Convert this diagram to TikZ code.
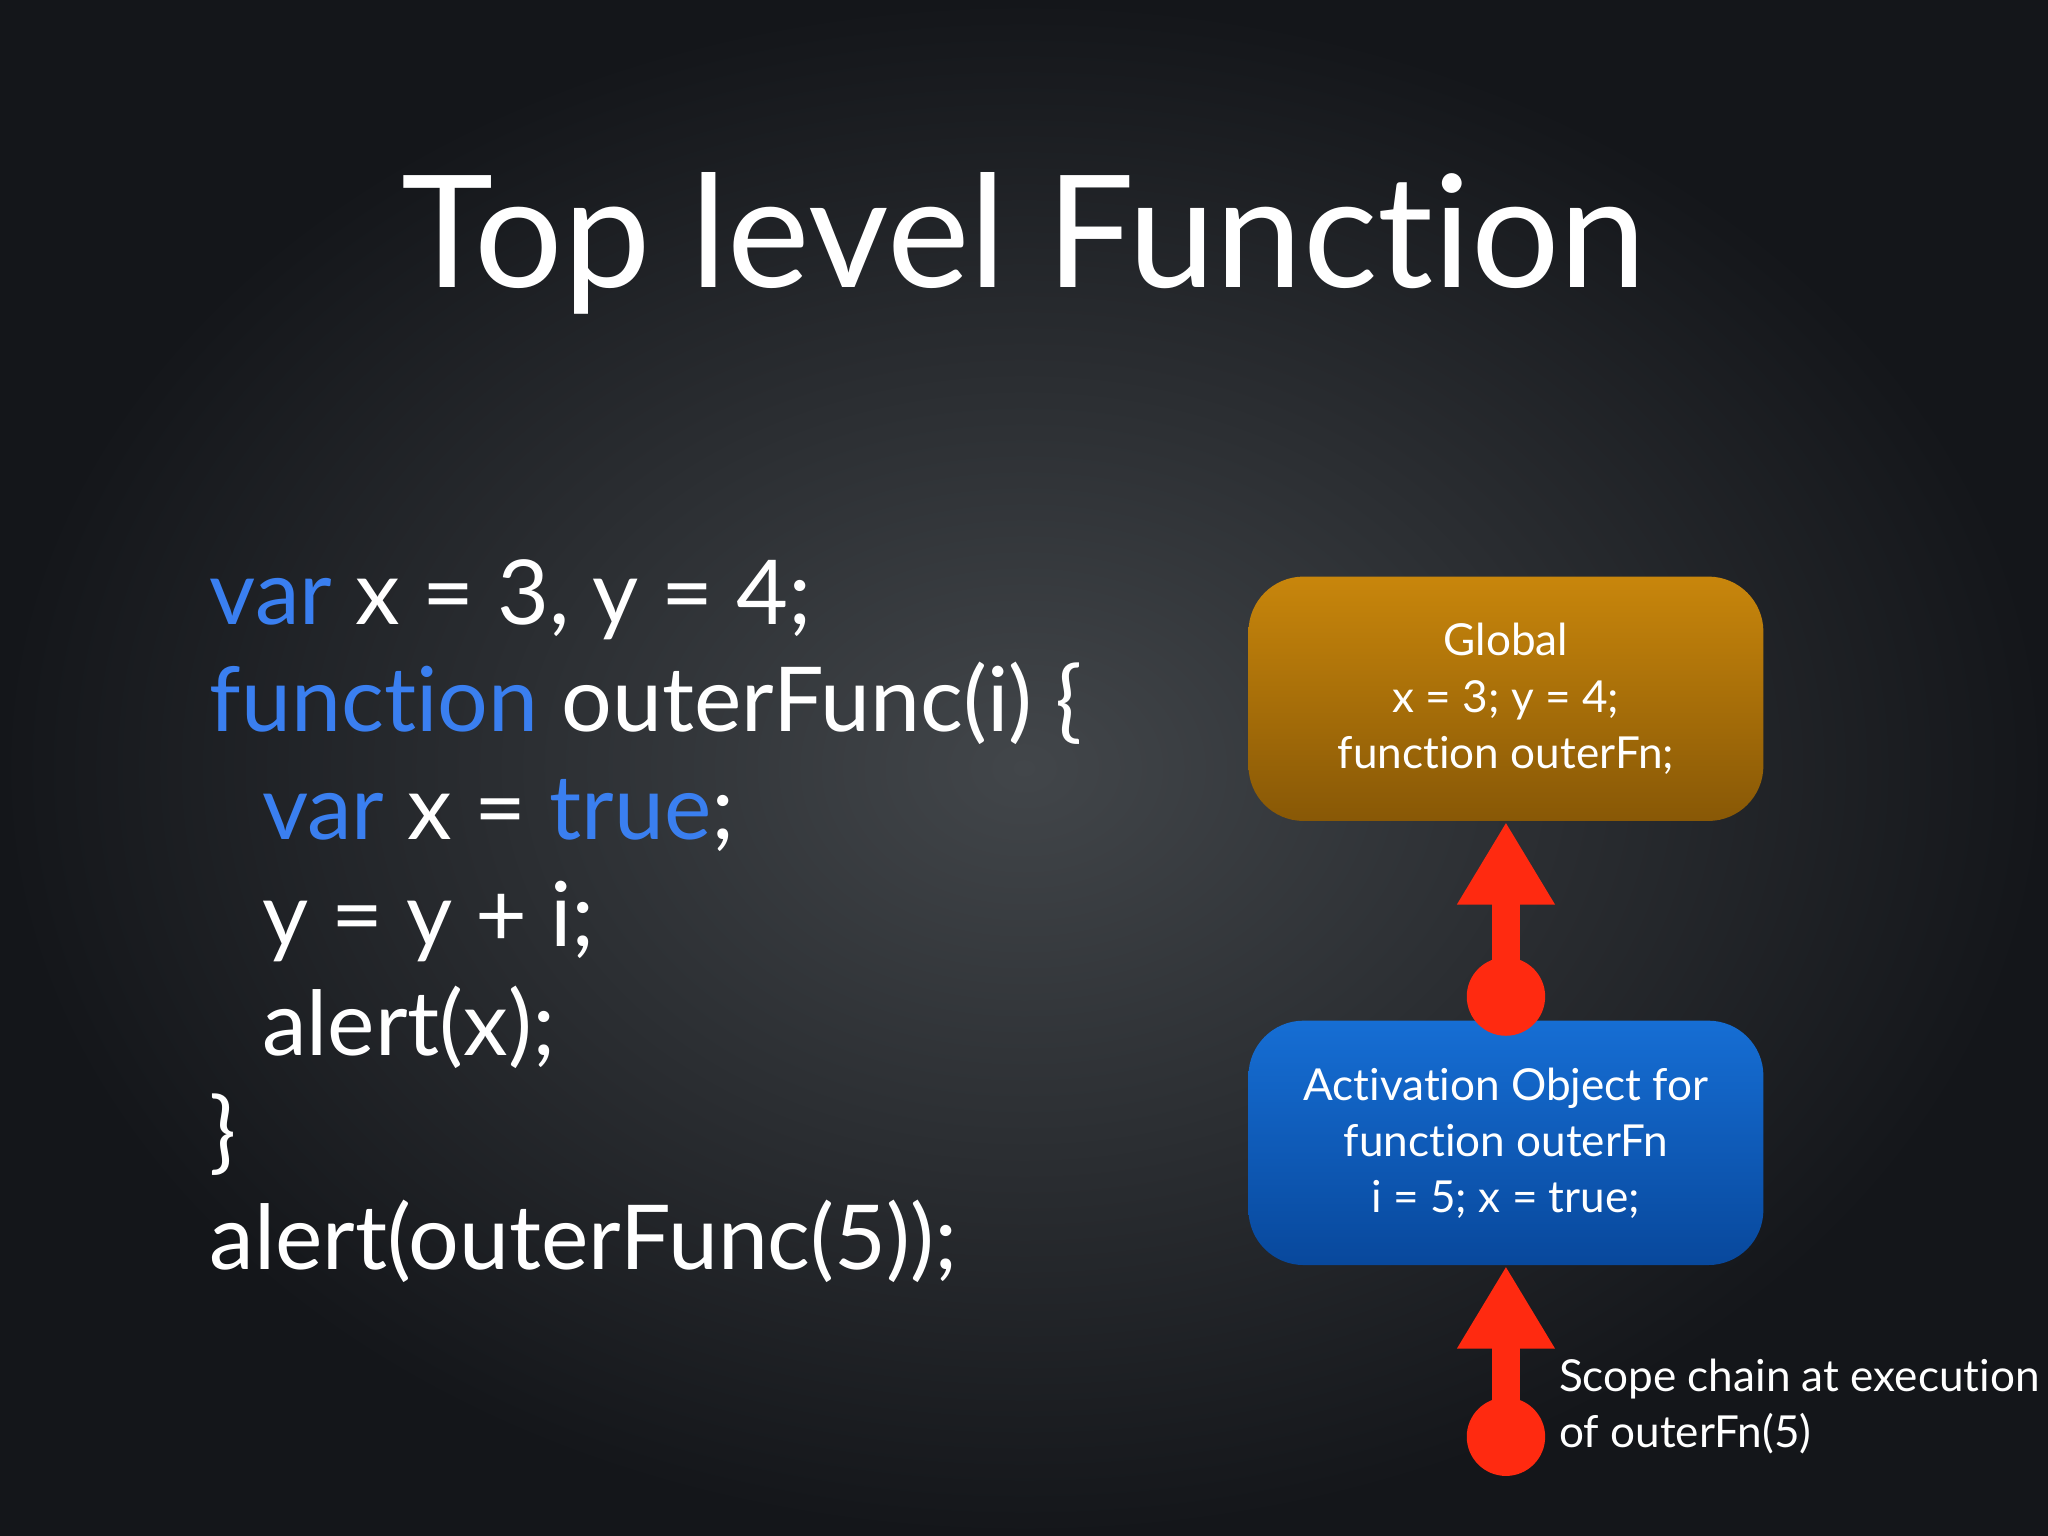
\documentclass[tikz,border=0pt]{standalone}
\usepackage{fontspec}
\setmainfont{Lato}[Ligatures=NoCommon]
\usetikzlibrary{arrows.meta}
\definecolor{kw}{HTML}{3A7FF0}
\definecolor{redc}{HTML}{FF2A10}
\tikzset{
 code/.style={anchor=base west,inner sep=0,text=white,font=\fontsize{19.5}{23}\selectfont},
 box/.style={rounded corners=12pt,minimum width=3.94cm,minimum height=1.87cm,text=white,align=center,font=\fontsize{9.6}{12.2}\selectfont},
 chain/.style={line width=6pt,redc,-{Triangle[width=20pt,length=18pt]}},
 dot/.style={circle,fill=redc,minimum size=0.6cm,inner sep=0}
}
\begin{document}
\begin{tikzpicture}[x=0.01cm,y=-0.01cm]
\useasboundingbox (0,0) rectangle (1568,1176);
\shade[inner color={rgb,255:red,66;green,70;blue,74},outer color={rgb,255:red,20;green,22;blue,26}] (0,0) rectangle (1568,1176);
\node[anchor=base,text=white,font=\fontsize{34}{40}\selectfont] (title) at (784,220) {Top level Function};
\node[code] (l1) at (160,478) {\textcolor{kw}{var} x = 3, y = 4;};
\node[code] (l2) at (160,560) {\textcolor{kw}{function} outerFunc(i) \{};
\node[code] (l3) at (200,643) {\textcolor{kw}{var} x = \textcolor{kw}{true};};
\node[code] (l4) at (200,725) {y = y + i;};
\node[code] (l5) at (200,808) {alert(x);};
\node[code] (l6) at (160,890) {\}};
\node[code] (l7) at (160,972) {alert(outerFunc(5));};
\node[box,top color={rgb,255:red,200;green,134;blue,12},bottom color={rgb,255:red,136;green,88;blue,6}] (global) at (1153,535) {Global\\x = 3; y = 4;\\function outerFn;};
\node[box,top color={rgb,255:red,22;green,110;blue,212},bottom color={rgb,255:red,8;green,72;blue,156}] (act) at (1153,875) {Activation Object for\\function outerFn\\i = 5; x = true;};
\node[dot] (d1) at (1153,763) {};
\node[dot] (d2) at (1153,1100) {};
\draw[chain] (d1.center) -- (global.south);
\draw[chain] (d2.center) -- (act.south);
\node[anchor=north west,text=white,align=left,font=\fontsize{9.6}{12.2}\selectfont,inner sep=0] (lbl) at (1193,1040) {Scope chain at execution\\of outerFn(5)};
\end{tikzpicture}
\end{document}
